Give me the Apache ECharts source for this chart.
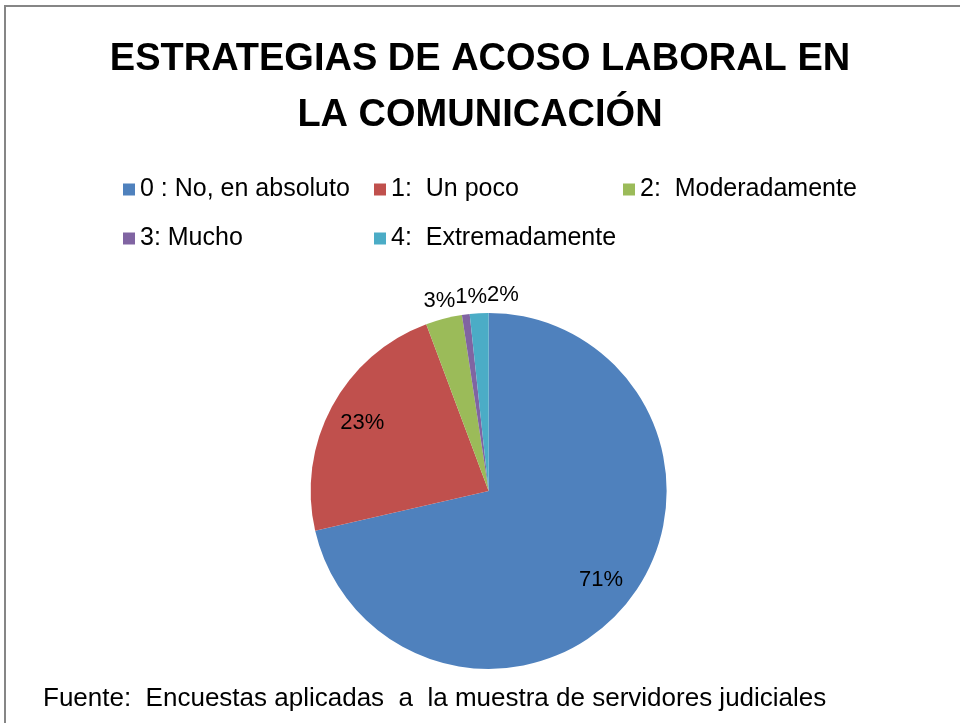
<!DOCTYPE html>
<html>
<head>
<meta charset="utf-8">
<title>Estrategias de acoso laboral en la comunicación</title>
<script src="https://cdn.jsdelivr.net/npm/echarts@6/dist/echarts.min.js"></script>
<style>
  html, body { margin: 0; padding: 0; background: #fff; }
  #chart { width: 960px; height: 723px; }
</style>
</head>
<body>
<div id="chart"></div>
<script>
  // datos (porcentaje de respuestas)
  var categorias = ['0 : No, en absoluto', '1:  Un poco', '2:  Moderadamente', '3: Mucho', '4:  Extremadamente'];
  var valores = [71.4, 22.9, 3.3, 0.7, 1.7];
  var colores = ['#4F81BD', '#C0504D', '#9BBB59', '#8064A2', '#4BACC6'];

  var fuente = '"Liberation Sans", Arial, sans-serif';
  var chart = echarts.init(document.getElementById('chart'));

  var pieCenter = ['50.9%', '67.9%'];
  var pieRadius = 178;

  // leyenda en rejilla, una por elemento
  var legendPos = [[118, 172], [369, 172], [618, 172], [118, 221], [369, 221]];
  var legends = categorias.map(function (c, i) {
    return {
      data: [c],
      left: legendPos[i][0],
      top: legendPos[i][1],
      icon: 'rect',
      itemWidth: 12,
      itemHeight: 12,
      itemGap: 4,
      textStyle: { fontFamily: fuente, fontSize: 25, color: '#000', padding: [0, 0, 0, 0] }
    };
  });

  var datos = categorias.map(function (c, i) {
    var small = valores[i] < 10;
    return {
      name: c,
      value: valores[i],
      itemStyle: { color: colores[i] },
      label: { position: 'inside', padding: small ? [0, 3] : 0 }
    };
  });

  var option = {
    animation: false,
    title: [{
      text: 'ESTRATEGIAS DE ACOSO LABORAL EN\nLA COMUNICACIÓN',
      left: 'center',
      top: 27,
      textStyle: { fontFamily: fuente, fontSize: 38, fontWeight: 'bold', color: '#000', lineHeight: 56 }
    }, {
      text: 'Fuente:  Encuestas aplicadas  a  la muestra de servidores judiciales',
      left: 38,
      top: 681,
      textStyle: { fontFamily: fuente, fontSize: 26, fontWeight: 'normal', color: '#000' }
    }],
    legend: legends,
    graphic: [{
      type: 'rect',
      shape: { x: 5, y: 6, width: 1000, height: 1000 },
      style: { fill: 'none', stroke: '#868686', lineWidth: 2 },
      silent: true
    }],
    series: [{
      type: 'pie',
      center: pieCenter,
      radius: pieRadius,
      startAngle: 90,
      clockwise: true,
      avoidLabelOverlap: false,
      itemStyle: { borderWidth: 0 },
      label: {
        show: true,
        color: '#000',
        fontFamily: fuente,
        fontSize: 22,
        formatter: function (p) { return Math.round(p.percent) + '%'; }
      },
      labelLine: { show: false },
      emphasis: { disabled: true },
      // mueve las etiquetas en direccion radial: grandes dentro, pequenas fuera
      labelLayout: function (p) {
        var lr = p.labelRect;
        var lx = lr.x + lr.width / 2, ly = lr.y + lr.height / 2;
        var cx = chart.getWidth() * parseFloat(pieCenter[0]) / 100;
        var cy = chart.getHeight() * parseFloat(pieCenter[1]) / 100;
        var k = valores[p.dataIndex] > 10 ? 0.56 : 1.13;
        return { dx: (lx - cx) * k, dy: (ly - cy) * k, moveOverlap: 'shiftX' };
      },
      data: datos
    }]
  };

  chart.setOption(option);
</script>
</body>
</html>
